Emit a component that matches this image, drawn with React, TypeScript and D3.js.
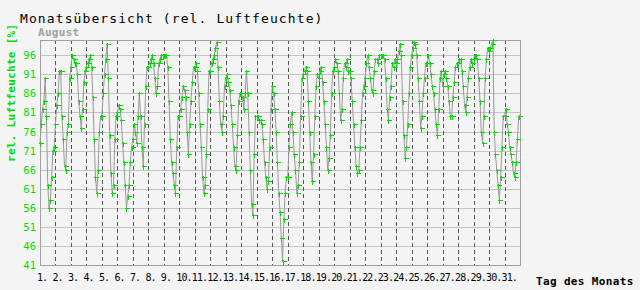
import React from 'react';
import * as d3 from 'd3';

const chartTitle = 'Monatsübersicht (rel. Luftfeuchte)';
const monthName = 'August';
const yAxisTitle = 'rel. Luftfeuchte [%]';
const xAxisTitle = 'Tag des Monats';
const yTicks = [41, 46, 51, 56, 61, 66, 71, 76, 81, 86, 91, 96];
const dayLabels = ['1.', '2.', '3.', '4.', '5.', '6.', '7.', '8.', '9.', '10.', '11.', '12.', '13.', '14.', '15.', '16.',
  '17.', '18.', '19.', '20.', '21.', '22.', '23.', '24.', '25.', '26.', '27.', '28.', '29.', '30.', '31.'];
const hoursPerReading = 2;
// relative humidity, one reading every 2 hours, one line per day
const humidity = [
  73, 78, 82, 84, 90, 80, 62, 56, 58, 64, 71, 72,
  78, 83, 86, 92, 92, 80, 74, 67, 66, 76, 78, 90,
  93, 96, 95, 94, 94, 91, 84, 80, 77, 82, 89, 92,
  93, 94, 95, 96, 93, 85, 74, 64, 60, 66, 76, 80,
  80, 86, 91, 95, 99, 90, 75, 65, 60, 62, 74, 80,
  81, 83, 82, 79, 73, 68, 62, 56, 59, 62, 68, 72,
  74, 78, 76, 73, 80, 86, 80, 72, 67, 78, 88, 93,
  93, 94, 95, 96, 94, 90, 86, 88, 94, 95, 96, 96,
  96, 96, 96, 93, 84, 74, 68, 65, 62, 60, 72, 80,
  80, 82, 85, 88, 87, 85, 76, 70, 78, 84, 89, 93,
  93, 94, 92, 86, 78, 72, 64, 60, 62, 70, 82, 92,
  92, 94, 95, 96, 98, 99.5, 93, 84, 78, 76, 80, 88,
  90, 91, 89, 87, 83, 78, 72, 67, 66, 75, 84, 86,
  86, 85, 82, 86, 92, 86, 76, 66, 57, 54, 70, 80,
  80, 80, 79, 79, 78, 74, 68, 64, 61, 63, 72, 82,
  88, 86, 82, 76, 68, 60, 55, 48, 42, 53, 60, 64,
  64, 72, 78, 81, 76, 70, 66, 60, 62, 68, 80, 90,
  91, 92, 93, 92, 84, 76, 68, 63, 70, 80, 88, 91,
  90, 92, 93, 89, 84, 78, 72, 66, 69, 75, 86, 92,
  93, 95, 94, 92, 86, 79, 82, 90, 94, 93, 95, 92,
  92, 90, 84, 78, 72, 67, 65, 66, 72, 79, 86, 88,
  90, 94, 96, 93, 90, 87, 86, 92, 95, 95, 94, 96,
  96, 96, 96, 95, 90, 82, 79, 85, 88, 94, 93, 95,
  94, 95, 97, 99, 96, 84, 75, 69, 72, 78, 86, 93,
  96, 98, 99.5, 99, 96, 90, 84, 77, 80, 86, 90, 94,
  94, 96, 94, 91, 88, 86, 82, 78, 75, 82, 90, 92,
  88, 91, 92, 90, 88, 84, 80, 80, 85, 89, 93, 94,
  94, 95, 95, 92, 88, 83, 81, 85, 90, 93, 95, 94,
  95, 96, 96, 95, 90, 84, 76, 73, 80, 90, 95, 98,
  97, 98, 99, 100, 76, 70, 66, 62, 58, 64, 72, 80,
  80, 82, 78, 76, 72, 70, 68, 65, 64, 68, 74, 80,
];

const GREEN = '#00dd00';
const MONO = '"DejaVu Sans Mono", "Liberation Mono", monospace';

export default function App() {
  const W = 640, H = 290;
  const left = 40, right = 520, top = 40, bottom = 265;
  const x = d3.scaleLinear().domain([0, dayLabels.length * 24]).range([left, right]);
  const y = d3.scaleLinear().domain([41, 100]).range([bottom, top]);
  const pts: [number, number][] = humidity.map((v, i) => [x(i * hoursPerReading), y(v)]);
  const linePath = d3.line()(pts) || '';
  const crisp = (v: number) => Math.round(v) + 0.5;

  return (
    <svg width={W} height={H} style={{ position: 'absolute', left: 0, top: 0, background: '#f4f4f4' }}
      shapeRendering="crispEdges">
      <rect x={0} y={0} width={W} height={H} fill="#f4f4f4" />
      <text x={20} y={23} fontFamily={MONO} fontSize={13} letterSpacing={1.1} fill="#000">{chartTitle}</text>
      <text x={38} y={36} fontFamily={MONO} fontSize={11} fontWeight="bold" fill="#a0a0a0" letterSpacing={0.3}>{monthName}</text>
      {/* horizontal grid */}
      {yTicks.filter(t => t !== 41).map(t => (
        <line key={'g' + t} x1={left} x2={right} y1={crisp(y(t))} y2={crisp(y(t))} stroke="#c4c4c4" strokeWidth={1} />
      ))}
      {/* day separators */}
      {dayLabels.slice(1).map((_, i) => {
        const xx = crisp(x((i + 1) * 24));
        return <line key={'d' + i} x1={xx} x2={xx} y1={top} y2={bottom} stroke="#555" strokeWidth={1} strokeDasharray="4,3" />;
      })}
      {/* frame */}
      <rect x={left + 0.5} y={top + 0.5} width={right - left} height={bottom - top} fill="none" stroke="#a0a0a0" strokeWidth={1} />
      {/* data */}
      <path d={linePath} fill="none" stroke="#999" strokeWidth={1} shapeRendering="auto" />
      {pts.map(([px, py], i) => {
        const cx = crisp(px), cy = crisp(py);
        return <path key={'m' + i} d={`M${cx - 2},${cy}H${cx + 3}M${cx},${cy - 2}V${cy + 3}`} stroke={GREEN} strokeWidth={1} />;
      })}
      {/* y tick labels */}
      {yTicks.map(t => (
        <text key={'y' + t} x={36} y={y(t) + 4} textAnchor="end" fontFamily={MONO} fontSize={10.5} fill={GREEN}>{t}</text>
      ))}
      {/* x tick labels */}
      {dayLabels.map((lab, i) => (
        <text key={'x' + i} x={x(i * 24) - 3} y={281} fontFamily={MONO} fontSize={10} letterSpacing={-0.9} fill="#000">{lab}</text>
      ))}
      <text x={536} y={285} fontFamily={MONO} fontSize={11} fontWeight="bold" letterSpacing={0.35} fill="#000">{xAxisTitle}</text>
      <text transform="translate(15,162) rotate(-90)" fontFamily={MONO} fontSize={11} fontWeight="bold" letterSpacing={0.3} fill={GREEN}>{yAxisTitle}</text>
    </svg>
  );
}
